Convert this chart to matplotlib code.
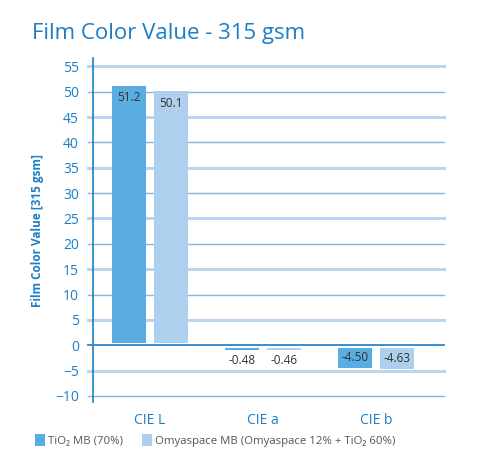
import matplotlib
matplotlib.use('Agg')
import matplotlib.pyplot as plt
import numpy as np

categories = ['CIE L', 'CIE a', 'CIE b']
tio2_mb = [51.2, -0.48, -4.50]
omyaspace_mb = [50.1, -0.46, -4.63]
tio2_labels = ['51.2', '-0.48', '-4.50']
omya_labels = ['50.1', '-0.46', '-4.63']
series_names = ['TiO\u2082 MB (70%)', 'Omyaspace MB (Omyaspace 12% + TiO\u2082 60%)']
y_ticks = list(range(-10, 60, 5))

blue = '#1a7fc6'
dark_bar = '#5aade0'
light_bar = '#aed0ee'
gap = 0.5  # bars are drawn slightly off the zero line

plt.rcParams['font.family'] = ['Open Sans', 'DejaVu Sans']

fig = plt.figure(figsize=(4.86, 4.73), dpi=100)
ax = fig.add_axes([0.191, 0.150, 0.722, 0.727])

# grid lines, alternating style like the original
for t in y_ticks:
    if t == 0:
        continue
    if t % 10 == 0:
        ax.axhline(t, color='#86b6e2', lw=1.0, zorder=0, xmin=-0.015, clip_on=False)
    else:
        ax.axhline(t, color='#bcd6ee', lw=2.2, zorder=0, xmin=-0.015, clip_on=False)
ax.axhline(0, color='#2a86cc', lw=1.3, zorder=3, xmin=-0.015, clip_on=False)

x = np.arange(len(categories))
w = 0.30
off = 0.186
b1 = [gap if v > 0 else -gap for v in tio2_mb]
b2 = [gap if v > 0 else -gap for v in omyaspace_mb]
h1 = [v - b for v, b in zip(tio2_mb, b1)]
h2 = [v - b for v, b in zip(omyaspace_mb, b2)]
# CIE a bars are tiny, keep the real value as thickness
h1[1] = tio2_mb[1]
h2[1] = omyaspace_mb[1]
ax.bar(x - off, h1, w, bottom=b1, color=dark_bar, zorder=2, label=series_names[0])
ax.bar(x + off, h2, w, bottom=b2, color=light_bar, zorder=2, label=series_names[1])

for i in range(len(categories)):
    for xx, v, lab, b in [(x[i] - off, tio2_mb[i], tio2_labels[i], b1[i]),
                          (x[i] + off, omyaspace_mb[i], omya_labels[i], b2[i])]:
        if v > 0:
            ax.annotate(lab, (xx, v), xytext=(0, -4), textcoords='offset points',
                        ha='center', va='top', fontsize=8.5, color='#333333')
        elif v > -1:
            ax.annotate(lab, (xx, b + v), xytext=(0, -3), textcoords='offset points',
                        ha='center', va='top', fontsize=8.5, color='#333333')
        else:
            ax.text(xx, (b + v) / 2, lab, ha='center', va='center', fontsize=8.5, color='#333333')

ax.set_xlim(-0.504, 2.6)
ax.set_ylim(-11.2, 56.6)
ax.set_yticks(y_ticks)
ax.set_xticks(x)
ax.set_xticklabels(categories)
ax.tick_params(axis='y', length=0, pad=10, labelsize=10, labelcolor=blue)
ax.tick_params(axis='x', length=0, pad=8, labelsize=10, labelcolor=blue)
for s in ['top', 'right', 'bottom']:
    ax.spines[s].set_visible(False)
ax.spines['left'].set_color(blue)
ax.spines['left'].set_linewidth(1.2)
ax.set_ylabel('Film Color Value [315 gsm]', color=blue, fontsize=8.5, fontweight='bold', labelpad=8)

fig.text(0.066, 0.93, 'Film Color Value - 315 gsm', fontsize=16, color=blue, va='center', ha='left')

fig.legend(loc='lower left', bbox_to_anchor=(0.062, 0.045), ncol=2, frameon=False, fontsize=8.2,
           handlelength=0.9, handleheight=1.2, handletextpad=0.3, columnspacing=1.6,
           labelcolor='#555555', borderaxespad=0)

fig.savefig('out.png', dpi=100)
